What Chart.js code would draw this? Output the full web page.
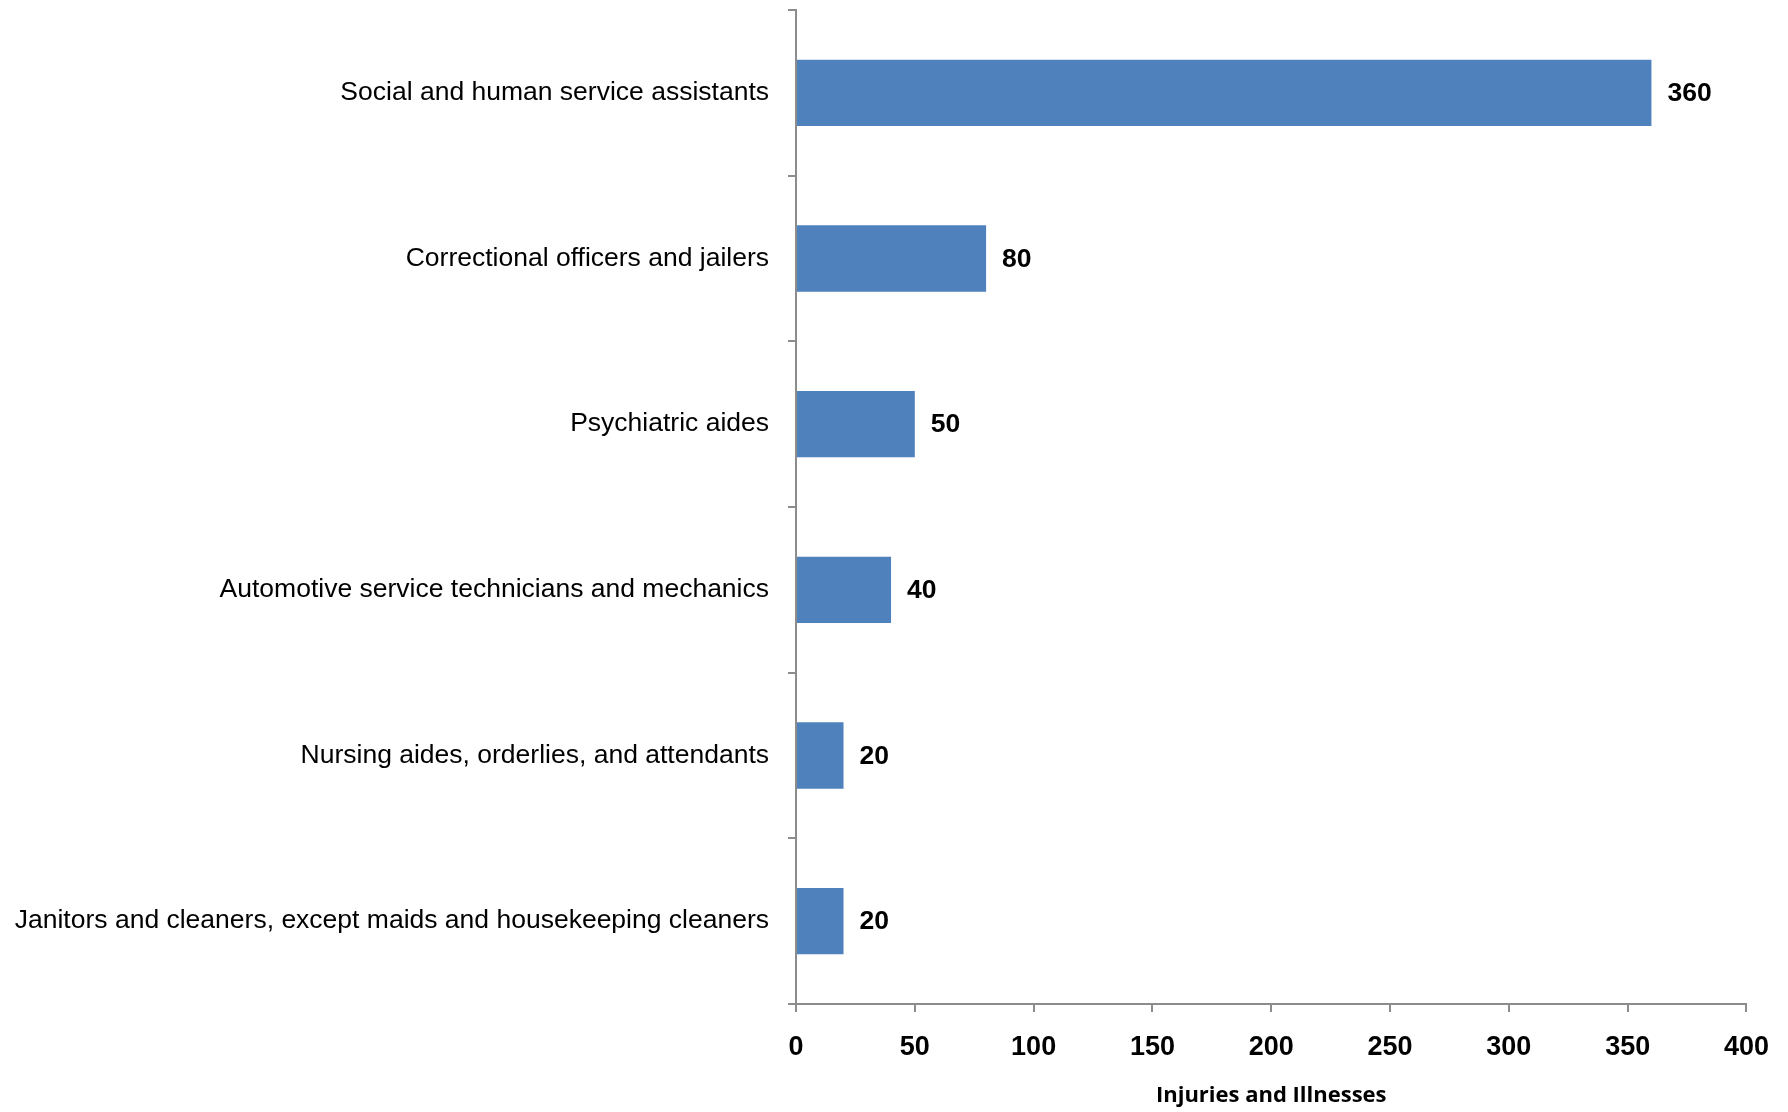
<!DOCTYPE html>
<html>
<head>
<meta charset="utf-8">
<script src="https://cdn.jsdelivr.net/npm/chart.js@4.4.1/dist/chart.umd.min.js"></script>
<style>
  html, body { margin: 0; padding: 0; background: #fff; }
  #wrap { width: 1788px; height: 1112px; }
</style>
</head>
<body>
<div id="wrap"><canvas id="chart" width="1788" height="1112"></canvas></div>
<script>
const occupations = [
  "Social and human service assistants",
  "Correctional officers and jailers",
  "Psychiatric aides",
  "Automotive service technicians and mechanics",
  "Nursing aides, orderlies, and attendants",
  "Janitors and cleaners, except maids and housekeeping cleaners"
];
const injuries = [360, 80, 50, 40, 20, 20];
const xMin = 0;
const xMax = 400;
const xStep = 50;
const axisTitle = "Injuries and Illnesses";

const axisGrey = '#8c8c8c';

// draw the value at the end of each bar
const valueLabels = {
  id: 'valueLabels',
  afterDatasetsDraw(chart) {
    const ctx = chart.ctx;
    const meta = chart.getDatasetMeta(0);
    ctx.save();
    ctx.font = 'bold 26.5px "Liberation Sans", Arial, sans-serif';
    ctx.fillStyle = '#000';
    ctx.textAlign = 'left';
    ctx.textBaseline = 'middle';
    meta.data.forEach((bar, i) => {
      ctx.fillText(String(injuries[i]), bar.x + 16, bar.y + 1);
    });
    ctx.restore();
  }
};

const mychart = new Chart(document.getElementById("chart"), {
  type: 'bar',
  data: {
    labels: occupations,
    datasets: [{
      data: injuries,
      backgroundColor: '#4f81bd',
      borderWidth: 0,
      categoryPercentage: 1.0,
      barPercentage: 0.4
    }]
  },
  options: {
    indexAxis: 'y',
    responsive: false,
    animation: false,
    layout: { padding: { top: 10, right: 39, bottom: 0, left: 0 } },
    plugins: {
      legend: { display: false },
      tooltip: { enabled: false }
    },
    scales: {
      x: {
        min: xMin,
        max: xMax,
        ticks: {
          stepSize: xStep,
          color: '#000',
          padding: 19,
          font: { family: '"Liberation Sans", Arial, sans-serif', size: 27, weight: 'bold' }
        },
        grid: { drawOnChartArea: false, drawTicks: true, tickLength: 8, color: axisGrey, lineWidth: 2 },
        border: { color: axisGrey, width: 2 },
        title: {
          display: true,
          text: axisTitle,
          color: '#000',
          padding: { top: 0, bottom: 3 },
          font: { family: '"Open Sans", sans-serif', size: 22, weight: 'bold' }
        },
        afterFit(scale) { scale.height = 108; }
      },
      y: {
        ticks: {
          color: '#000',
          padding: 19,
          font: { family: '"Liberation Sans", Arial, sans-serif', size: 26.5 }
        },
        grid: { drawOnChartArea: false, drawTicks: true, tickLength: 8, color: axisGrey, lineWidth: 2, offset: true },
        border: { color: axisGrey, width: 2 },
        afterFit(scale) {
          scale.width = 796;
          scale.paddingTop = 0;
          scale.paddingBottom = 0;
        }
      }
    }
  },
  plugins: [valueLabels]
});
</script>
</body>
</html>
